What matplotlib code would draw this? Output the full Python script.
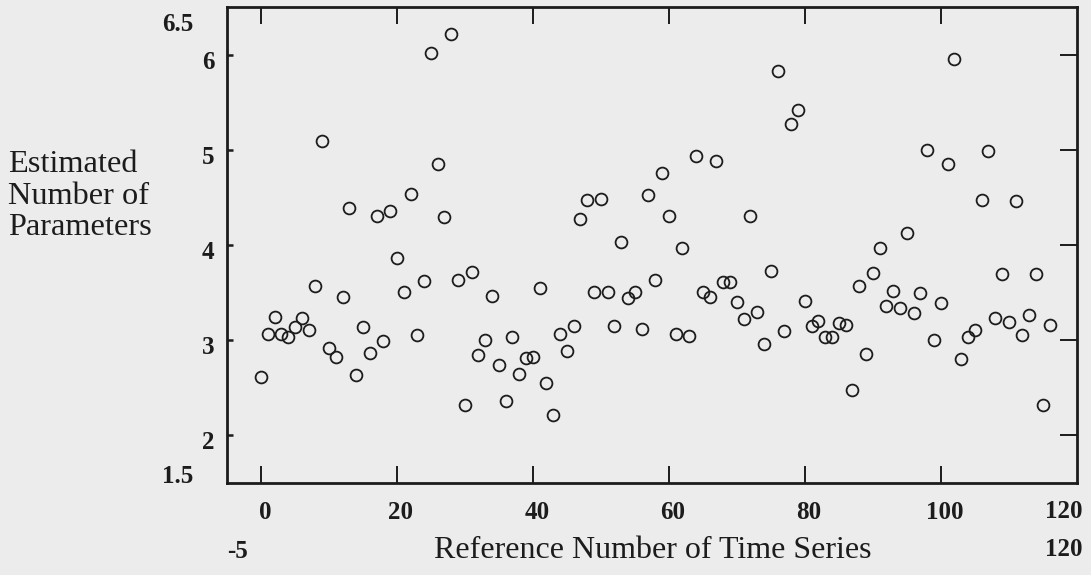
import matplotlib.pyplot as plt
import matplotlib.transforms as mtransforms

plt.rcParams['font.family'] = ['Liberation Serif', 'DejaVu Serif']

# reference number of each time series and its estimated number of parameters
series_ref = list(range(117))
est_params = [
    2.61, 3.07, 3.25, 3.07, 3.04, 3.14, 3.24, 3.11, 3.57, 5.10,
    2.92, 2.83, 3.46, 4.39, 2.64, 3.14, 2.87, 4.31, 2.99, 4.36,
    3.87, 3.51, 4.54, 3.06, 3.62, 6.02, 4.85, 4.30, 6.22, 3.63,
    2.32, 3.72, 2.85, 3.00, 3.47, 2.74, 2.36, 3.04, 2.65, 2.81,
    2.83, 3.55, 2.55, 2.21, 3.07, 2.89, 3.15, 4.28, 4.48, 3.51,
    4.49, 3.51, 3.15, 4.03, 3.45, 3.51, 3.12, 4.53, 3.63, 4.76,
    4.31, 3.07, 3.97, 3.05, 4.94, 3.51, 3.46, 4.89, 3.61, 3.61,
    3.40, 3.22, 4.31, 3.30, 2.96, 3.73, 5.83, 3.10, 5.27, 5.42,
    3.41, 3.15, 3.20, 3.03, 3.03, 3.18, 3.16, 2.48, 3.57, 2.86,
    3.71, 3.97, 3.36, 3.52, 3.34, 4.13, 3.29, 3.50, 5.00, 3.00,
    3.39, 4.85, 5.96, 2.80, 3.04, 3.11, 4.48, 4.99, 3.24, 3.70,
    3.19, 4.47, 3.06, 3.27, 3.70, 2.32, 3.16,
]

x_ticks = [0, 20, 40, 60, 80, 100]
y_ticks = [2, 3, 4, 5, 6]
x_min, x_max = -5, 120
y_min, y_max = 1.5, 6.5

bg = '#ececec'
ink = '#1c1c1c'
fs_tick = 18

fig = plt.figure(figsize=(10.91, 5.75), dpi=100, facecolor=bg)
ax = fig.add_axes([0.208, 0.160, 0.779, 0.827], facecolor=bg)

ax.plot(series_ref, est_params, linestyle='none', marker='o', ms=8.5,
        mfc='none', mec=ink, mew=1.3)

ax.set_xlim(x_min, x_max)
ax.set_ylim(y_min, y_max)
for s in ax.spines.values():
    s.set_linewidth(2.0)
    s.set_color(ink)

ax.set_xticks(x_ticks)
ax.set_xticklabels([str(v) for v in x_ticks], fontsize=fs_tick, fontweight='bold', color=ink)
ax.set_yticks(y_ticks)
ax.set_yticklabels([str(v) for v in y_ticks], fontsize=fs_tick, fontweight='bold', color=ink)
ax.tick_params(axis='x', direction='in', length=12, width=1.4, top=True, pad=13, color=ink)
ax.tick_params(axis='y', direction='in', length=4, width=1.8, pad=9, color=ink)

# y tick labels sit a little below their ticks, x labels a touch right
down = mtransforms.ScaledTranslation(0, -5 / 100, fig.dpi_scale_trans)
for lab in ax.get_yticklabels():
    lab.set_transform(lab.get_transform() + down)
right = mtransforms.ScaledTranslation(4 / 100, 0, fig.dpi_scale_trans)
for lab in ax.get_xticklabels():
    lab.set_transform(lab.get_transform() + right)

# longer inward ticks on the right frame
sec = ax.secondary_yaxis('right')
sec.set_yticks(y_ticks)
sec.tick_params(direction='in', length=12, width=1.4, labelright=False, color=ink)
sec.spines['right'].set_visible(False)

# range labels at the ends of the axes
ty = mtransforms.blended_transform_factory(ax.transAxes, ax.transData)
ax.text(-0.040, 6.32, '6.5', ha='right', va='center', fontsize=fs_tick,
        fontweight='bold', color=ink, transform=ty)
ax.text(-0.040, 1.57, '1.5', ha='right', va='center', fontsize=fs_tick,
        fontweight='bold', color=ink, transform=ty)

fig.text(1064 / 1091, 1 - 512 / 575, '120', ha='center', va='center', fontsize=fs_tick,
         fontweight='bold', color=ink)
fig.text(238 / 1091, 1 - 551 / 575, '-5', ha='center', va='center', fontsize=fs_tick,
         fontweight='bold', color=ink)
fig.text(1064 / 1091, 1 - 549 / 575, '120', ha='center', va='center', fontsize=fs_tick,
         fontweight='bold', color=ink)

fig.text(653 / 1091, 1 - 550 / 575, 'Reference Number of Time Series',
         ha='center', va='center', fontsize=23, color=ink)
fig.text(8 / 1091, 1 - 196 / 575, 'Estimated\nNumber of\nParameters',
         ha='left', va='center', fontsize=23.3, color=ink, linespacing=1.12)

fig.savefig('out.png', dpi=100, facecolor=bg)
